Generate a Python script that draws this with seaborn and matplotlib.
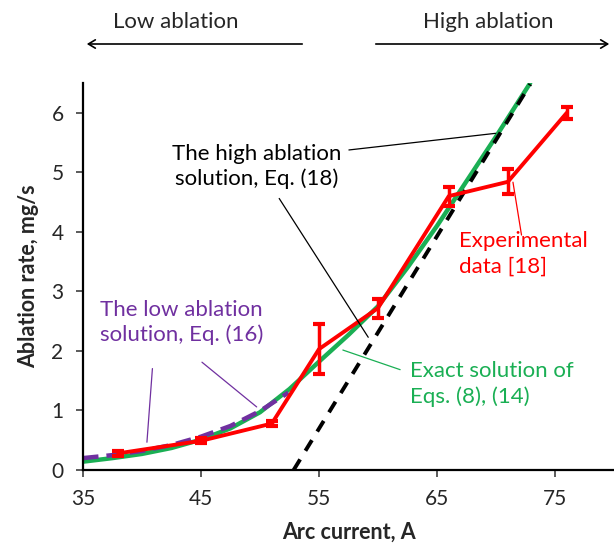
import numpy as np
import pandas as pd
import matplotlib
matplotlib.use("Agg")
import matplotlib.pyplot as plt
import seaborn as sns

# ---- data ----
exp_current = [38, 45, 51, 55, 60, 66, 71, 76]
exp_rate = [0.28, 0.49, 0.78, 2.03, 2.72, 4.60, 4.84, 6.00]
exp_err = [0.04, 0.04, 0.04, 0.42, 0.16, 0.16, 0.21, 0.10]

exact_current = [35, 37.5, 40, 42.5, 45, 47.5, 50, 52.5, 55, 57.5, 60, 62.5, 65, 67.5, 70, 72.9]
exact_rate = [0.14, 0.20, 0.27, 0.37, 0.51, 0.70, 0.97, 1.36, 1.82, 2.27, 2.75, 3.40, 4.10, 4.85, 5.60, 6.50]

low_current = [35, 37.5, 40, 42.5, 45, 47.5, 50, 52.4]
low_rate = [0.20, 0.25, 0.32, 0.42, 0.56, 0.74, 0.99, 1.30]

high_current = [52.85, 72.9]
high_rate = [0.0, 6.48]

x_ticks = [35, 45, 55, 65, 75]
y_ticks = [0, 1, 2, 3, 4, 5, 6]

sns.set_theme(style="ticks")
plt.rcParams['font.family'] = ['Lato', 'DejaVu Sans']

FS = 16
TFS = 15
fig = plt.figure(figsize=(6.14, 5.5), dpi=100)
ax = fig.add_axes([83/614, 80/550, 531/614, 387/550])

GREEN = "#1aaf54"
PURPLE = "#7030a0"
RED = "#ff0000"

df_exact = pd.DataFrame({"I": exact_current, "r": exact_rate})
df_low = pd.DataFrame({"I": low_current, "r": low_rate})
df_high = pd.DataFrame({"I": high_current, "r": high_rate})
df_exp = pd.DataFrame({"I": exp_current, "r": exp_rate})

sns.lineplot(data=df_exact, x="I", y="r", ax=ax, color=GREEN, lw=3.2, estimator=None, sort=False)
sns.lineplot(data=df_low, x="I", y="r", ax=ax, color=PURPLE, lw=3.2, estimator=None, sort=False,
             linestyle=(0, (3.5, 1.8)))
sns.lineplot(data=df_high, x="I", y="r", ax=ax, color="black", lw=2.8, estimator=None, sort=False,
             linestyle=(0, (3.2, 2.6)))
sns.lineplot(data=df_exp, x="I", y="r", ax=ax, color=RED, lw=2.8, estimator=None, sort=False)
ax.errorbar(exp_current, exp_rate, yerr=exp_err, fmt="none", ecolor=RED, elinewidth=2.5,
            capsize=4, capthick=3)

ax.set_xlim(35, 80)
ax.set_ylim(0, 6.5)
ax.set_xticks(x_ticks)
ax.set_yticks(y_ticks)
ax.tick_params(axis="both", labelsize=TFS, length=5, width=1.2, color="#404040", pad=9)
for s in ["top", "right"]:
    ax.spines[s].set_visible(False)
for s in ["left", "bottom"]:
    ax.spines[s].set_linewidth(1.6)
    ax.spines[s].set_color("black")
ax.set_xlabel("Arc current, A", fontsize=15.5, fontweight="bold", labelpad=9)
ax.set_ylabel("Ablation rate, mg/s", fontsize=15.5, fontweight="bold", labelpad=9)

# annotations
ax.text(49.7, 5.1, "The high ablation\nsolution, Eq. (18)", color="black", fontsize=FS,
        ha="center", va="center", linespacing=1.3)
ax.annotate("", xy=(70.2, 5.66), xytext=(57.3, 5.37),
            arrowprops=dict(arrowstyle="-", color="black", lw=0.9))
ax.annotate("", xy=(59.3, 2.19), xytext=(51.5, 4.6),
            arrowprops=dict(arrowstyle="-", color="black", lw=0.9))

ax.text(66.9, 3.63, "Experimental\ndata [18]", color=RED, fontsize=FS,
        ha="left", va="center", linespacing=1.3)
ax.annotate("", xy=(71.4, 4.88), xytext=(72.2, 3.9),
            arrowprops=dict(arrowstyle="-", color=RED, lw=0.9))

ax.text(62.7, 1.44, "Exact solution of\nEqs. (8), (14)", color=GREEN, fontsize=FS,
        ha="left", va="center", linespacing=1.3)
ax.annotate("", xy=(56.8, 2.03), xytext=(62.1, 1.67),
            arrowprops=dict(arrowstyle="-", color=GREEN, lw=0.9))

ax.text(36.4, 2.48, "The low ablation\nsolution, Eq. (16)", color=PURPLE, fontsize=FS,
        ha="left", va="center", linespacing=1.3)
ax.annotate("", xy=(40.4, 0.42), xytext=(40.9, 1.75),
            arrowprops=dict(arrowstyle="-", color=PURPLE, lw=0.9))
ax.annotate("", xy=(49.9, 1.03), xytext=(44.9, 1.84),
            arrowprops=dict(arrowstyle="-", color=PURPLE, lw=0.9))

# top region labels and arrows
fig.text(176/614, 1 - 22/550, "Low ablation", fontsize=FS, ha="center", va="center")
fig.text(488/614, 1 - 22/550, "High ablation", fontsize=FS, ha="center", va="center")
fig.add_artist(matplotlib.patches.FancyArrowPatch((305/614, 1 - 44/550), (84/614, 1 - 44/550),
               transform=fig.transFigure, arrowstyle="->,head_length=5,head_width=3",
               color="black", lw=1.2, mutation_scale=1))
fig.add_artist(matplotlib.patches.FancyArrowPatch((373/614, 1 - 44/550), (612/614, 1 - 44/550),
               transform=fig.transFigure, arrowstyle="->,head_length=5,head_width=3",
               color="black", lw=1.2, mutation_scale=1))

fig.savefig("out.png", dpi=100)
